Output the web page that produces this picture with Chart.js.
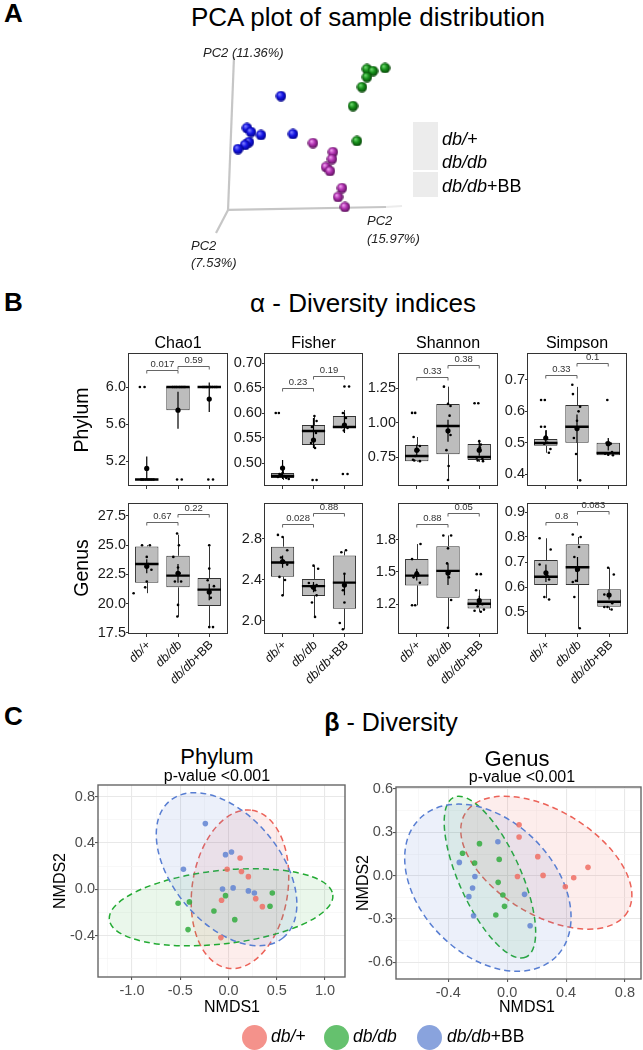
<!DOCTYPE html>
<html><head><meta charset="utf-8">
<script src="https://cdn.jsdelivr.net/npm/chart.js@4.4.1/dist/chart.umd.min.js"></script>
<style>
html,body{margin:0;padding:0;background:#fff}
body{width:643px;height:1050px;position:relative;overflow:hidden;font-family:'Liberation Sans',Arial,Helvetica,sans-serif}
.t{position:absolute;white-space:nowrap;line-height:1;color:#000}
canvas{position:absolute}
.lbox{position:absolute;background:#ececec}
.dot{position:absolute;border-radius:50%;box-sizing:border-box}
</style></head><body>
<script>
const FONT="'Liberation Sans', Arial, Helvetica, sans-serif";
Chart.defaults.font.family=FONT;

// ================= DATA =================
const groupNames=[['db/+',''],['db/db',''],['db/db','+BB']];

// --- A: PCA (projected screen coordinates of 3D scores) ---
const pcaBlue=[[-0.104,0.513],[-0.356,0.235],[-0.326,0.200],[-0.252,0.174],[-0.015,0.183],[-0.341,0.113],[-0.370,0.087],[-0.422,0.052]];
const pcaGreen=[[0.533,0.748],[0.578,0.730],[0.667,0.757],[0.533,0.678],[0.496,0.591],[0.430,0.426],[0.459,0.122]];
const pcaPurple=[[0.133,0.104],[0.281,0.026],[0.274,-0.035],[0.230,-0.104],[0.259,-0.139],[0.348,-0.287],[0.319,-0.365],[0.370,-0.452]];
const pcaAxisH=[[-0.496,-0.478],[0.674,-0.452]];
const pcaAxisHExt=[[0.674,-0.452],[0.793,-0.443]];
const pcaAxisV=[[-0.496,-0.478],[-0.452,0.852]];
const pcaAxisD=[[-0.496,-0.478],[-0.585,-0.678]];

// --- B: alpha diversity  stats = [q1, median, q3, whiskerLow, whiskerHigh]; means = [mean, low, high]
const phylumChao1Stats=[[5,5,5,5,5],[5.75,6,6,6,6],[6,6,6,6,6]];
const phylumChao1Points=[[0.78,6],[0.93,6],[0.82,5],[0.9,5],[0.97,5],[1.04,5],[1.1,5],[1.16,5],[1.22,5],[0.86,5],[1.83,6],[1.9,6],[1.96,6],[2.04,6],[2.1,6],[2.16,6],[2.22,6],[1.97,5],[2.12,5],[2.8,6],[2.86,6],[2.92,6],[3.04,6],[3.1,6],[3.18,6],[3.24,6],[2.97,5],[3.12,5]];
const phylumChao1Means=[[5.12,5.0,5.25],[5.75,5.55,5.95],[5.87,5.73,6.05]];
const phylumChao1P=['0.017','0.59'], phylumChao1PY=[6.18,6.23];
const phylumChao1Ticks=[5.2,5.6,6.0];

const phylumFisherStats=[[0.470,0.474,0.480,0.466,0.486],[0.536,0.564,0.576,0.528,0.594],[0.570,0.572,0.594,0.562,0.606]];
const phylumFisherPoints=[[0.78,0.600],[0.88,0.600],[0.85,0.472],[0.95,0.476],[1.05,0.474],[1.12,0.470],[1.2,0.468],[0.9,0.478],[1.0,0.480],[1.97,0.466],[2.1,0.466],[2.03,0.594],[2.1,0.584],[1.95,0.572],[2.08,0.560],[2.0,0.545],[1.92,0.540],[2.05,0.530],[3.0,0.653],[3.15,0.653],[2.95,0.478],[3.1,0.478],[2.95,0.600],[3.05,0.590],[3.0,0.576],[2.9,0.572],[3.1,0.570],[2.98,0.565]];
const phylumFisherMeans=[[0.490,0.468,0.506],[0.546,0.530,0.590],[0.576,0.560,0.600]];
const phylumFisherP=['0.23','0.19'], phylumFisherPY=[0.650,0.674];
const phylumFisherTicks=[0.50,0.55,0.60,0.65,0.70];

const phylumShannonStats=[[0.720,0.757,0.837,0.715,0.895],[0.770,0.975,1.134,0.583,1.260],[0.728,0.750,0.844,0.715,0.870]];
const phylumShannonPoints=[[0.85,1.07],[0.95,1.07],[0.9,0.895],[1.1,0.830],[1.05,0.800],[0.95,0.757],[0.88,0.730],[0.92,0.725],[1.1,0.720],[1.87,1.260],[2.0,1.135],[2.08,1.120],[2.05,1.050],[2.0,0.930],[2.08,0.910],[1.95,0.800],[2.02,0.685],[2.0,0.583],[2.85,1.14],[2.97,1.14],[3.0,0.865],[3.05,0.840],[3.02,0.820],[2.92,0.745],[3.1,0.735],[2.95,0.725],[3.12,0.720]];
const phylumShannonMeans=[[0.80,0.76,0.84],[0.94,0.86,1.02],[0.80,0.76,0.86]];
const phylumShannonP=['0.33','0.38'], phylumShannonPY=[1.33,1.42];
const phylumShannonTicks=[0.75,1.00,1.25];

const phylumSimpsonStats=[[0.490,0.499,0.512,0.468,0.540],[0.500,0.551,0.620,0.378,0.678],[0.460,0.467,0.500,0.458,0.510]];
const phylumSimpsonPoints=[[0.85,0.636],[0.97,0.636],[0.85,0.551],[0.97,0.551],[1.0,0.520],[1.05,0.500],[0.95,0.497],[1.15,0.480],[1.1,0.468],[1.85,0.685],[1.87,0.655],[2.1,0.615],[2.05,0.600],[2.0,0.570],[1.9,0.515],[1.97,0.464],[2.1,0.380],[2.97,0.636],[2.95,0.500],[3.08,0.497],[3.12,0.470],[2.9,0.465],[3.0,0.462],[3.15,0.460]];
const phylumSimpsonMeans=[[0.515,0.495,0.540],[0.545,0.500,0.590],[0.497,0.475,0.515]];
const phylumSimpsonP=['0.33','0.1'], phylumSimpsonPY=[0.716,0.754];
const phylumSimpsonTicks=[0.4,0.5,0.6,0.7];

const genusChao1Stats=[[21.8,23.4,24.9,20.9,25.0],[21.4,22.4,24.1,18.9,25.9],[19.8,21.2,22.2,18.0,24.9]];
const genusChao1Points=[[0.85,25.0],[1.1,25.0],[1.0,24.0],[1.05,23.4],[1.15,22.9],[1.0,21.9],[0.95,21.4],[0.58,20.9],[1.97,26.0],[2.03,25.0],[1.85,24.0],[2.0,23.1],[2.05,22.6],[1.9,21.9],[2.1,21.9],[2.0,19.9],[1.98,18.9],[3.0,25.0],[3.0,23.0],[2.95,22.0],[3.15,21.5],[3.0,21.0],[3.05,20.5],[3.0,18.0],[3.12,18.0]];
const genusChao1Means=[[23.2,22.6,23.8],[22.6,21.8,23.4],[21.0,20.3,21.7]];
const genusChao1P=['0.67','0.22'], genusChao1PY=[27.0,27.7];
const genusChao1Ticks=[17.5,20.0,22.5,25.0,27.5];

const genusFisherStats=[[2.432,2.570,2.725,2.250,2.820],[2.244,2.340,2.410,2.040,2.540],[2.120,2.374,2.640,1.920,2.680]];
const genusFisherPoints=[[0.85,2.84],[1.0,2.82],[1.15,2.69],[0.95,2.62],[1.05,2.58],[1.15,2.55],[0.9,2.43],[1.08,2.40],[1.0,2.25],[2.0,2.54],[2.15,2.51],[1.85,2.37],[2.1,2.35],[1.95,2.33],[2.05,2.30],[2.1,2.25],[1.95,2.18],[2.05,2.04],[3.05,2.69],[2.9,2.67],[3.0,2.46],[3.0,2.35],[2.95,2.30],[3.0,2.18],[2.85,1.98],[2.95,1.92]];
const genusFisherMeans=[[2.58,2.52,2.64],[2.33,2.28,2.38],[2.35,2.25,2.45]];
const genusFisherP=['0.028','0.88'], genusFisherPY=[2.95,3.05];
const genusFisherTicks=[2.0,2.4,2.8];

const genusShannonStats=[[1.375,1.466,1.620,1.190,1.760],[1.260,1.510,1.740,0.980,1.840],[1.160,1.204,1.250,1.130,1.335]];
const genusShannonPoints=[[1.12,1.76],[0.85,1.62],[1.0,1.50],[1.05,1.47],[0.9,1.45],[1.1,1.40],[0.85,1.19],[0.95,1.19],[1.85,1.84],[2.1,1.84],[2.0,1.72],[1.97,1.58],[2.05,1.50],[2.03,1.45],[2.1,1.24],[2.0,0.98],[2.92,1.48],[3.05,1.48],[2.9,1.33],[3.0,1.23],[3.1,1.20],[2.95,1.18],[3.15,1.15],[2.85,1.14],[3.05,1.13]];
const genusShannonMeans=[[1.48,1.42,1.53],[1.49,1.38,1.58],[1.233,1.19,1.28]];
const genusShannonP=['0.88','0.05'], genusShannonPY=[1.947,2.05];
const genusShannonTicks=[1.2,1.5,1.8];

const genusSimpsonStats=[[0.608,0.641,0.708,0.555,0.795],[0.608,0.679,0.771,0.435,0.800],[0.521,0.541,0.591,0.508,0.677]];
const genusSimpsonPoints=[[0.8,0.795],[1.15,0.750],[0.8,0.690],[1.0,0.650],[1.05,0.645],[1.1,0.630],[0.95,0.560],[1.1,0.550],[1.85,0.810],[2.1,0.800],[2.05,0.760],[1.9,0.720],[1.97,0.665],[1.95,0.625],[1.85,0.620],[1.9,0.560],[2.07,0.435],[2.97,0.677],[3.15,0.650],[2.85,0.570],[3.0,0.565],[3.1,0.535],[2.85,0.520],[2.95,0.520],[3.08,0.510]];
const genusSimpsonMeans=[[0.657,0.62,0.69],[0.671,0.62,0.72],[0.568,0.55,0.59]];
const genusSimpsonP=['0.8','0.083'], genusSimpsonPY=[0.859,0.904];
const genusSimpsonTicks=[0.5,0.6,0.7,0.8,0.9];

// --- C: NMDS ---
const phylumDbPlus=[[0.120,0.270],[-0.014,0.173],[0.134,0.153],[0.206,0.109],[-0.072,-0.095],[0.282,-0.081],[0.351,-0.150],[-0.079,-0.417]];
const phylumDbDb=[[-0.522,-0.121],[-0.405,-0.109],[-0.151,-0.187],[-0.031,-0.055],[0.454,-0.032],[0.430,-0.147],[0.065,-0.262],[-0.419,-0.348]];
const phylumDbDbBB=[[-0.240,0.567],[-0.467,0.173],[-0.031,0.299],[0.031,0.322],[-0.062,0.003],[0.048,0.012],[0.206,-0.014],[0.268,-0.032]];
// ellipse: [centerX, centerY, axis1X, axis1Y, axis2X, axis2Y]
const phylumEllipses=[[0.119,0.0,0.124,0.682,0.49,-0.062],[-0.077,-0.155,1.158,0.107,0.041,-0.315],[-0.02,0.173,0.59,-0.589,-0.427,-0.30]];
const phylumXMajor=[-1,-0.5,0,0.5,1], phylumXMinor=[-1.25,-0.75,-0.25,0.25,0.75];
const phylumYMajor=[-0.4,0,0.4,0.8], phylumYMinor=[-0.6,-0.2,0.2,0.6];

const genusDbPlus=[[0.081,0.353],[0.081,0.268],[0.208,0.132],[0.070,-0.005],[0.244,0.002],[0.452,-0.014],[0.549,0.058],[0.395,-0.076]];
const genusDbDb=[[-0.188,0.222],[-0.303,0.155],[-0.221,0.088],[-0.054,0.113],[-0.061,-0.046],[-0.029,-0.134],[-0.018,-0.212],[-0.077,-0.272]];
const genusDbDbBB=[[-0.063,0.235],[-0.325,0.092],[-0.219,-0.005],[-0.235,-0.085],[-0.260,-0.145],[-0.228,-0.277],[0.118,-0.129],[0.156,-0.346]];
const genusEllipses=[[0.266,0.09,0.552,-0.34,-0.182,-0.31],[-0.117,-0.01,0.245,-0.553,-0.191,-0.089],[-0.131,-0.083,0.465,-0.476,-0.321,-0.329]];
const genusXMajor=[-0.4,0,0.4,0.8], genusXMinor=[-0.6,-0.2,0.2,0.6];
const genusYMajor=[-0.6,-0.3,0,0.3,0.6], genusYMinor=[-0.45,-0.15,0.15,0.45];

// ================= HELPERS =================
function makeCanvas(left,top,w,h){
  const c=document.createElement('canvas'); c.width=w; c.height=h;
  c.style.left=left+'px'; c.style.top=top+'px'; c.style.width=w+'px'; c.style.height=h+'px';
  document.body.appendChild(c); return c;
}
function addText(html,x,y,size,o={}){
  const d=document.createElement('div'); d.className='t'; d.innerHTML=html;
  d.style.left=x+'px'; d.style.top=y+'px'; d.style.fontSize=size+'px';
  if(o.bold) d.style.fontWeight='bold';
  if(o.italic) d.style.fontStyle='italic';
  if(o.color) d.style.color=o.color;
  const ax=o.align==='left'?'0':(o.align==='right'?'-100%':'-50%');
  d.style.transform='translate('+ax+',-50%)'+(o.rot?' rotate('+o.rot+'deg)':'');
  document.body.appendChild(d);
}
const baseOpts=()=>({responsive:false,animation:false,devicePixelRatio:1,
  plugins:{legend:{display:false},tooltip:{enabled:false}}});

function sphere(light,base,dark){
  const s=11,c=document.createElement('canvas'); c.width=s; c.height=s;
  const g=c.getContext('2d');
  const gr=g.createRadialGradient(3.8,3.6,0.4,5.5,5.5,5.6);
  gr.addColorStop(0,light); gr.addColorStop(0.45,base); gr.addColorStop(1,dark);
  g.fillStyle=gr; g.beginPath(); g.arc(5.5,5.5,5.2,0,Math.PI*2); g.fill();
  return c;
}

// ================= PANEL A =================
(function(){
  const cv=makeCanvas(160,40,270,230);
  const xy=d=>d.map(p=>({x:p[0],y:p[1]}));
  const line=(d,c,w)=>({type:'line',data:xy(d),borderColor:c,borderWidth:w,pointRadius:0,order:10,clip:false});
  const pts=(d,img)=>({type:'scatter',data:xy(d),pointStyle:img,pointRadius:5,order:1,clip:false});
  const o=baseOpts();
  o.layout={padding:0,autoPadding:false};
  o.scales={x:{type:'linear',display:false,min:-1,max:1},y:{type:'linear',display:false,min:-1,max:1}};
  new Chart(cv,{type:'scatter',data:{datasets:[
    line(pcaAxisHExt,'#ececec',2),line(pcaAxisH,'#c6c6c6',2.2),line(pcaAxisV,'#c6c6c6',2.2),line(pcaAxisD,'#c6c6c6',2.2),
    pts(pcaBlue,sphere('#8080ff','#1515e6','#000080')),
    pts(pcaGreen,sphere('#70d870','#16901a','#073d07')),
    pts(pcaPurple,sphere('#f0a0f0','#b030b0','#4e0e4e'))
  ]},options:o});
})();

// ================= PANEL B =================
function boxChart(rect,stats,points,means,pvals,pY,yRange,yTicks,dec,showLabels){
  const ML=44,MT=12,MR=12,MB=52;
  const [l,t,r,b]=rect;
  const cv=makeCanvas(l-ML,t-MT,r-l+ML+MR,b-t+MT+MB);
  const plugin={
    id:'boxExtras',
    beforeDatasetsDraw(chart){
      const {ctx,scales:{x,y}}=chart;
      ctx.save(); ctx.strokeStyle='#333'; ctx.lineWidth=1; ctx.beginPath();
      stats.forEach((s,i)=>{const px=Math.round(x.getPixelForValue(i+1))+0.5;
        ctx.moveTo(px,y.getPixelForValue(s[3])); ctx.lineTo(px,y.getPixelForValue(s[0]));
        ctx.moveTo(px,y.getPixelForValue(s[2])); ctx.lineTo(px,y.getPixelForValue(s[4]));});
      ctx.stroke(); ctx.restore();
    },
    afterDatasetDraw(chart,args){
      if(args.index!==0) return;
      const {ctx,scales:{y}}=chart;
      ctx.save(); ctx.strokeStyle='#000'; ctx.lineWidth=2.4; ctx.beginPath();
      stats.forEach((s,i)=>{const el=args.meta.data[i]; const py=y.getPixelForValue(s[1]);
        ctx.moveTo(el.x-el.width/2,py); ctx.lineTo(el.x+el.width/2,py);});
      ctx.stroke(); ctx.restore();
    },
    afterDatasetsDraw(chart){
      const {ctx,chartArea:a,scales:{x,y}}=chart;
      ctx.save();
      ctx.strokeStyle='#000'; ctx.lineWidth=1.2; ctx.beginPath();
      means.forEach((m,i)=>{const px=x.getPixelForValue(i+1);
        ctx.moveTo(px,y.getPixelForValue(m[1])); ctx.lineTo(px,y.getPixelForValue(m[2]));});
      ctx.stroke();
      ctx.strokeStyle='#555'; ctx.lineWidth=0.9; ctx.fillStyle='#333';
      ctx.font='9.5px '+FONT; ctx.textAlign='center'; ctx.textBaseline='bottom';
      pvals.forEach((p,k)=>{const x1=x.getPixelForValue(k+1),x2=x.getPixelForValue(k+2),yy=Math.round(y.getPixelForValue(pY[k]))+0.5;
        ctx.beginPath(); ctx.moveTo(x1,yy+3); ctx.lineTo(x1,yy); ctx.lineTo(x2,yy); ctx.lineTo(x2,yy+3); ctx.stroke();
        ctx.fillText(p,(x1+x2)/2,yy-1);});
      ctx.strokeStyle='#333'; ctx.lineWidth=1; ctx.strokeRect(a.left+0.5,a.top+0.5,a.width-1,a.height-1);
      if(showLabels){
        groupNames.forEach((g,i)=>{
          const px=x.getPixelForValue(i+1);
          ctx.save(); ctx.translate(px+2,a.bottom+9); ctx.rotate(-Math.PI/4);
          ctx.font='italic 12.5px '+FONT; const w1=ctx.measureText(g[0]).width;
          ctx.font='12.5px '+FONT; const w2=ctx.measureText(g[1]).width;
          ctx.fillStyle='#111'; ctx.textAlign='left'; ctx.textBaseline='middle';
          ctx.font='italic 12.5px '+FONT; ctx.fillText(g[0],-(w1+w2),0);
          ctx.font='12.5px '+FONT; ctx.fillText(g[1],-w2,0);
          ctx.restore();
        });
      }
      ctx.restore();
    }
  };
  const o=baseOpts();
  o.layout={padding:{top:MT,right:MR,left:0,bottom:0}};
  o.scales={
    x:{type:'linear',min:0.4,max:3.6,offset:false,
      afterBuildTicks:s=>{s.ticks=[1,2,3].map(v=>({value:v}));},
      afterFit:s=>{s.height=MB;},
      ticks:{display:false},
      grid:{display:true,drawOnChartArea:false,drawTicks:true,tickLength:3,color:'#333',tickColor:'#333',offset:false},
      border:{display:false}},
    y:{type:'linear',min:yRange[0],max:yRange[1],
      afterBuildTicks:s=>{s.ticks=yTicks.map(v=>({value:v}));},
      afterFit:s=>{s.width=ML;},
      ticks:{autoSkip:false,padding:0,color:'#1a1a1a',font:{size:14.5,family:FONT},callback:v=>Number(v).toFixed(dec)},
      grid:{display:true,drawOnChartArea:false,drawTicks:true,tickLength:2,color:'#333',tickColor:'#333'},
      border:{display:false}}
  };
  new Chart(cv,{type:'bar',data:{datasets:[
    {type:'bar',data:stats.map((s,i)=>({x:i+1,y:[s[0],s[2]]})),backgroundColor:'#bdbdbd',borderColor:'#333',borderWidth:1,borderSkipped:false,barPercentage:0.75,categoryPercentage:1,order:3},
    {type:'scatter',data:points.map(p=>({x:p[0],y:p[1]})),pointRadius:1.3,backgroundColor:'#000',borderWidth:0,order:2},
    {type:'scatter',data:means.map((m,i)=>({x:i+1,y:m[0]})),pointRadius:2.6,backgroundColor:'#000',borderWidth:0,order:1}
  ]},options:o,plugins:[plugin]});
}

boxChart([128,353,228,486],phylumChao1Stats,phylumChao1Points,phylumChao1Means,phylumChao1P,phylumChao1PY,[4.93,6.368],phylumChao1Ticks,1,false);
boxChart([264,353,363,486],phylumFisherStats,phylumFisherPoints,phylumFisherMeans,phylumFisherP,phylumFisherPY,[0.454,0.72],phylumFisherTicks,2,false);
boxChart([398,353,498,486],phylumShannonStats,phylumShannonPoints,phylumShannonMeans,phylumShannonP,phylumShannonPY,[0.54,1.504],phylumShannonTicks,2,false);
boxChart([527,353,627,486],phylumSimpsonStats,phylumSimpsonPoints,phylumSimpsonMeans,phylumSimpsonP,phylumSimpsonPY,[0.362,0.786],phylumSimpsonTicks,1,false);
boxChart([128,503,228,634],genusChao1Stats,genusChao1Points,genusChao1Means,genusChao1P,genusChao1PY,[17.41,28.61],genusChao1Ticks,1,true);
boxChart([264,503,363,634],genusFisherStats,genusFisherPoints,genusFisherMeans,genusFisherP,genusFisherPY,[1.873,3.151],genusFisherTicks,1,true);
boxChart([398,503,498,634],genusShannonStats,genusShannonPoints,genusShannonMeans,genusShannonP,genusShannonPY,[0.923,2.142],genusShannonTicks,1,true);
boxChart([527,503,628,634],genusSimpsonStats,genusSimpsonPoints,genusSimpsonMeans,genusSimpsonP,genusSimpsonPY,[0.412,0.936],genusSimpsonTicks,1,true);

// ================= PANEL C =================
const nmdsPointColors=['rgba(240,110,100,0.85)','rgba(50,172,62,0.85)','rgba(98,132,210,0.85)'];
const nmdsLineColors=['rgb(236,98,88)','rgb(34,170,50)','rgb(88,126,210)'];
const nmdsFillColors=['rgba(240,110,100,0.12)','rgba(50,172,62,0.10)','rgba(98,132,210,0.12)'];

function nmdsChart(rect,xRange,yRange,xMaj,xMin,yMaj,yMin,series,ellipses){
  const ML=40,MT=12,MR=12,MB=26;
  const [l,t,r,b]=rect;
  const cv=makeCanvas(l-ML,t-MT,r-l+ML+MR,b-t+MT+MB);
  const isMaj=(arr,v)=>arr.some(a=>Math.abs(a-v)<1e-9);
  const axis=(range,maj,min,isX)=>({
    type:'linear',min:range[0],max:range[1],
    afterBuildTicks:s=>{s.ticks=maj.concat(min).sort((a,b)=>a-b).map(v=>({value:v}));},
    afterFit:isX?(s=>{s.height=MB;}):(s=>{s.width=ML;}),
    ticks:{autoSkip:false,maxRotation:0,minRotation:0,padding:isX?2:0,color:'#4d4d4d',font:{family:FONT,size:14.5},
      callback:v=>isMaj(maj,v)?(Math.abs(v)<1e-9?'0.0':Number(v).toFixed(1)):''},
    grid:{drawOnChartArea:true,drawTicks:true,tickLength:3,
      color:c=>isMaj(maj,c.tick.value)?'#e8e8e8':'#f4f4f4',
      lineWidth:c=>isMaj(maj,c.tick.value)?1.1:0.6,
      tickColor:c=>isMaj(maj,c.tick.value)?'#555':'rgba(0,0,0,0)'},
    border:{display:false}
  });
  const plugin={
    id:'ellipses',
    beforeDatasetsDraw(chart){
      const {ctx,chartArea:a,scales:{x,y}}=chart;
      ctx.save(); ctx.beginPath(); ctx.rect(a.left,a.top,a.width,a.height); ctx.clip();
      ellipses.forEach((e,i)=>{
        const cx=x.getPixelForValue(e[0]),cy=y.getPixelForValue(e[1]);
        const ux=x.getPixelForValue(e[0]+e[2])-cx,uy=y.getPixelForValue(e[1]+e[3])-cy;
        const vx=x.getPixelForValue(e[0]+e[4])-cx,vy=y.getPixelForValue(e[1]+e[5])-cy;
        ctx.beginPath(); ctx.save(); ctx.transform(ux,uy,vx,vy,cx,cy); ctx.arc(0,0,1,0,Math.PI*2); ctx.restore();
        ctx.fillStyle=nmdsFillColors[i]; ctx.fill();
        ctx.setLineDash([6,4]); ctx.lineWidth=1.5; ctx.strokeStyle=nmdsLineColors[i]; ctx.stroke(); ctx.setLineDash([]);
      });
      ctx.restore();
    },
    afterDraw(chart){
      const {ctx,chartArea:a}=chart;
      ctx.save(); ctx.strokeStyle='#666'; ctx.lineWidth=1.4; ctx.strokeRect(a.left,a.top,a.width,a.height); ctx.restore();
    }
  };
  const o=baseOpts();
  o.layout={padding:{top:MT,right:MR,left:0,bottom:0}};
  o.scales={x:axis(xRange,xMaj,xMin,true),y:axis(yRange,yMaj,yMin,false)};
  new Chart(cv,{type:'scatter',data:{datasets:series.map((s,i)=>({
    data:s.map(p=>({x:p[0],y:p[1]})),pointRadius:2.8,backgroundColor:nmdsPointColors[i],borderWidth:0}))},
    options:o,plugins:[plugin]});
}
nmdsChart([98,785,345,977],[-1.352,1.207],[-0.757,0.900],phylumXMajor,phylumXMinor,phylumYMajor,phylumYMinor,[phylumDbPlus,phylumDbDb,phylumDbDbBB],phylumEllipses);
nmdsChart([396,787,641,979],[-0.755,0.909],[-0.715,0.614],genusXMajor,genusXMinor,genusYMajor,genusYMinor,[genusDbPlus,genusDbDb,genusDbDbBB],genusEllipses);

// ================= TEXT =================
addText('A',4,13,26,{bold:true,align:'left'});
addText('PCA plot of sample distribution',368,17,26);
addText('PC2 (11.36%)',203,52,13,{italic:true,align:'left',color:'#222'});
addText('PC2',367,220,13,{italic:true,align:'left',color:'#222'});
addText('(15.97%)',367,238,13,{italic:true,align:'left',color:'#222'});
addText('PC2',191,245,13,{italic:true,align:'left',color:'#222'});
addText('(7.53%)',191,262,13,{italic:true,align:'left',color:'#222'});
[[122,48],[172,25]].forEach(b=>{const d=document.createElement('div');d.className='lbox';d.style.left='413px';d.style.top=b[0]+'px';d.style.width='25px';d.style.height=b[1]+'px';document.body.appendChild(d);});
addText('<i>db/+</i>',442,139,18,{align:'left'});
addText('<i>db/db</i>',442,162,18,{align:'left'});
addText('<i>db/db</i>+BB',442,186,18,{align:'left'});

addText('B',4,302,26,{bold:true,align:'left'});
addText('α - Diversity indices',363,303,26);
addText('Chao1',178,343,16);
addText('Fisher',313.5,343,16);
addText('Shannon',448,343,16);
addText('Simpson',577,343,16);
addText('Phylum',82,420,19.5,{rot:-90});
addText('Genus',82,568,19.5,{rot:-90});

addText('C',4,716,26,{bold:true,align:'left'});
addText('<b>β</b> - Diversity',391,722,25);
addText('Phylum',217,757,22);
addText('p-value &lt;0.001',217,776,16);
addText('Genus',517,759,22);
addText('p-value &lt;0.001',522,777,16);
addText('NMDS2',60,881,16,{rot:-90});
addText('NMDS2',363,883,16,{rot:-90});
addText('NMDS1',232,1007,16);
addText('NMDS1',527,1007,16);
[[254.5,'rgba(240,110,100,0.75)'],[336,'rgba(50,172,62,0.75)'],[429.5,'rgba(98,132,210,0.75)']].forEach(c=>{
  const d=document.createElement('div');d.className='dot';d.style.left=(c[0]-12.5)+'px';d.style.top='1024.5px';
  d.style.width='25px';d.style.height='25px';d.style.background=c[1];document.body.appendChild(d);});
addText('<i>db/+</i>',271,1037,17.5,{align:'left'});
addText('<i>db/db</i>',353,1037,17.5,{align:'left'});
addText('<i>db/db</i>+BB',447,1037,17.5,{align:'left'});
</script>
</body></html>
